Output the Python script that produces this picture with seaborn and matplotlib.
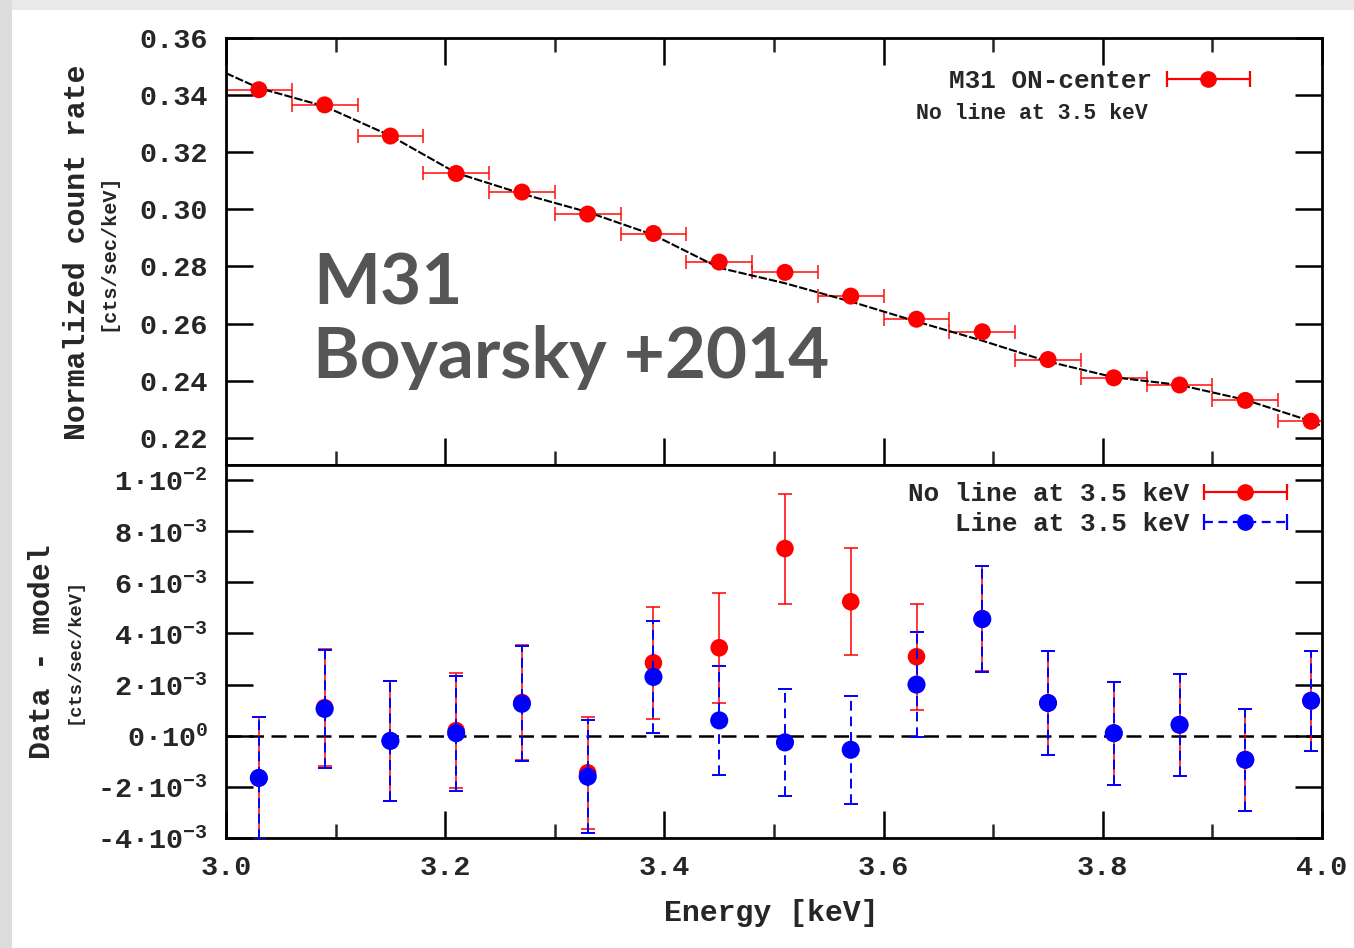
import numpy as np
import pandas as pd
import seaborn as sns
import matplotlib
matplotlib.use("Agg")
import matplotlib.pyplot as plt
from matplotlib.legend_handler import HandlerErrorbar
from matplotlib.container import ErrorbarContainer
from matplotlib.patches import Rectangle

# ---------------- data ----------------
energy = [3.03, 3.09, 3.15, 3.21, 3.27, 3.33, 3.39, 3.45, 3.51,
          3.57, 3.63, 3.69, 3.75, 3.81, 3.87, 3.93, 3.99]
bin_halfwidth = [0.03] * 17
count_rate = [0.3418, 0.3365, 0.3256, 0.3125, 0.3060, 0.2983, 0.2915, 0.2815, 0.2779,
              0.2696, 0.2615, 0.2571, 0.2474, 0.2410, 0.2385, 0.2331, 0.2258]

model_energy = [3.00, 3.03, 3.09, 3.15, 3.21, 3.27, 3.33, 3.39, 3.45, 3.51,
                3.57, 3.63, 3.69, 3.75, 3.81, 3.87, 3.93, 3.99, 4.00]
model_rate = [0.3476, 0.3424, 0.3360, 0.3257, 0.3127, 0.3054, 0.2990, 0.2910, 0.2795, 0.2741,
              0.2677, 0.2607, 0.2540, 0.2467, 0.2412, 0.2385, 0.2333, 0.2258, 0.2240]

resid_noline = [-1.65e-3, 1.10e-3, -0.20e-3, 0.20e-3, 1.30e-3, -1.45e-3, 2.85e-3, 3.44e-3, 7.32e-3,
                5.24e-3, 3.09e-3, 4.58e-3, 1.28e-3, 0.10e-3, 0.43e-3, -0.94e-3, 1.37e-3]
err_noline = [2.40e-3, 2.30e-3, 2.35e-3, 2.25e-3, 2.25e-3, 2.20e-3, 2.20e-3, 2.15e-3, 2.15e-3,
              2.10e-3, 2.08e-3, 2.06e-3, 2.03e-3, 2.01e-3, 2.00e-3, 1.99e-3, 1.95e-3]
resid_line = [-1.65e-3, 1.05e-3, -0.20e-3, 0.10e-3, 1.25e-3, -1.60e-3, 2.30e-3, 0.60e-3, -0.26e-3,
              -0.55e-3, 2.00e-3, 4.56e-3, 1.28e-3, 0.10e-3, 0.43e-3, -0.94e-3, 1.37e-3]
err_line = [2.40e-3, 2.30e-3, 2.35e-3, 2.25e-3, 2.25e-3, 2.20e-3, 2.20e-3, 2.12e-3, 2.10e-3,
            2.10e-3, 2.04e-3, 2.06e-3, 2.03e-3, 2.01e-3, 2.00e-3, 1.99e-3, 1.95e-3]

top_yticks = [0.22, 0.24, 0.26, 0.28, 0.30, 0.32, 0.34, 0.36]
bot_yticks = [-4e-3, -2e-3, 0.0, 2e-3, 4e-3, 6e-3, 8e-3, 1e-2]
bot_yticklabels = ['-4·10$^{-3}$', '-2·10$^{-3}$', '0·10$^{0}$', '2·10$^{-3}$',
                   '4·10$^{-3}$', '6·10$^{-3}$', '8·10$^{-3}$', '1·10$^{-2}$']
xticks_major = [3.0, 3.2, 3.4, 3.6, 3.8, 4.0]
xticks_minor = [3.1, 3.3, 3.5, 3.7, 3.9]
xticklabels = ['3.0', '3.2', '3.4', '3.6', '3.8', '4.0']

df_top = pd.DataFrame({'E': energy, 'rate': count_rate})
df_model = pd.DataFrame({'E': model_energy, 'rate': model_rate})
df_res = pd.DataFrame({'E': energy, 'noline': resid_noline, 'line': resid_line})

# ---------------- style ----------------
sns.set_theme(style='white')
plt.rcParams['font.family'] = ['Liberation Mono', 'DejaVu Sans']
plt.rcParams['font.weight'] = 'bold'
plt.rcParams['mathtext.fontset'] = 'custom'
plt.rcParams['mathtext.rm'] = 'Liberation Mono:bold'
plt.rcParams['mathtext.it'] = 'Liberation Mono:bold'
plt.rcParams['mathtext.bf'] = 'Liberation Mono:bold'
plt.rcParams['mathtext.default'] = 'rm'
plt.rcParams['axes.unicode_minus'] = False

RED = '#ff0000'
BLUE = '#0000ff'
TICKFS = 20.5
LEGFS = 18.7

fig = plt.figure(figsize=(13.54, 9.48), dpi=100)
fig.patch.set_facecolor('white')
# screenshot edges
fig.patches.append(Rectangle((0, 1 - 10 / 948), 1, 10 / 948, transform=fig.transFigure,
                             facecolor='#e9e9e9', edgecolor='none', zorder=-5))
fig.patches.append(Rectangle((0, 0), 12 / 1354, 1, transform=fig.transFigure,
                             facecolor='#dcdcdc', edgecolor='none', zorder=-5))

ax1 = fig.add_axes([0.1669, 0.5095, 0.8095, 0.4507])
ax2 = fig.add_axes([0.1669, 0.1160, 0.8095, 0.3935])

for ax in (ax1, ax2):
    ax.set_facecolor('white')
    for sp in ax.spines.values():
        sp.set_visible(True)
        sp.set_color('black')
        sp.set_linewidth(2.0)
    ax.set_xlim(3.0, 4.0)
    ax.set_xticks(xticks_major)
    ax.set_xticks(xticks_minor, minor=True)
    ax.tick_params(axis='both', which='major', direction='in', length=19.5, width=1.8,
                   color='black', labelsize=TICKFS, right=True, left=True)
    ax.tick_params(axis='x', which='major', top=True, bottom=True)
    ax.tick_params(axis='x', which='minor', direction='in', length=10, width=1.8,
                   top=True, bottom=True)
    ax.tick_params(axis='y', which='major', pad=13)
    ax.grid(False)

# ---------------- top panel ----------------
sns.lineplot(data=df_model, x='E', y='rate', ax=ax1, color='black', lw=1.5,
             linestyle=(0, (4, 1.0)), zorder=3, legend=False)
eb_top = ax1.errorbar(df_top['E'], df_top['rate'], xerr=bin_halfwidth, fmt='none',
                      ecolor=RED, elinewidth=1.4, capsize=5, capthick=1.4, alpha=0.75, zorder=2)
sns.scatterplot(data=df_top, x='E', y='rate', ax=ax1, color=RED, s=150,
                edgecolor='none', zorder=4, legend=False)
ax1.set_ylim(0.2105, 0.36)
ax1.set_yticks(top_yticks)
ax1.set_yticklabels([f'{v:.2f}' for v in top_yticks])
ax1.tick_params(axis='x', which='both', labelbottom=False)
ax1.set_xlabel('')
ax1.set_ylabel('')

prox_top = ax1.errorbar([np.nan], [np.nan], xerr=[0.01], fmt='o', color=RED, ms=11,
                        ecolor=RED, elinewidth=1.6, capsize=6, capthick=1.6)
hmap = {ErrorbarContainer: HandlerErrorbar(xerr_size=1.6)}
ax1.legend([prox_top], ['M31 ON-center'], loc='center right',
           bbox_to_anchor=(0.934, 0.899), frameon=False, markerfirst=False,
           handlelength=3.2, handletextpad=0.55, borderpad=0, borderaxespad=0,
           fontsize=LEGFS, handler_map=hmap)
ax1.text(0.841, 0.822, 'No line at 3.5 keV', transform=ax1.transAxes, ha='right',
         va='center', fontsize=15.5, fontweight='bold')

ax1.text(313 / 1354, 1 - 304 / 948, 'M31', transform=fig.transFigure, ha='left',
         va='baseline', fontsize=51, fontweight='bold', family='Lato', color='#555555')
ax1.text(313 / 1354, 1 - 378 / 948, 'Boyarsky +2014', transform=fig.transFigure, ha='left',
         va='baseline', fontsize=51, fontweight='bold', family='Lato', color='#555555')

# ---------------- bottom panel ----------------
ax2.axhline(0, color='black', lw=1.8, linestyle=(0, (6, 3)), zorder=1)
eb_red = ax2.errorbar(df_res['E'], df_res['noline'], yerr=err_noline, fmt='none',
                      ecolor=RED, elinewidth=1.3, capsize=5, capthick=1.3, alpha=0.85, zorder=2)
sns.scatterplot(data=df_res, x='E', y='noline', ax=ax2, color=RED, s=160,
                edgecolor='none', zorder=3, legend=False)
eb_blue = ax2.errorbar(df_res['E'], df_res['line'], yerr=err_line, fmt='none',
                       ecolor=BLUE, elinewidth=1.4, capsize=5, capthick=1.4, zorder=4)
eb_blue.lines[2][0].set_linestyle((0, (5, 3)))
sns.scatterplot(data=df_res, x='E', y='line', ax=ax2, color=BLUE, s=170,
                edgecolor='none', zorder=5, legend=False)
ax2.set_ylim(-0.004, 0.010587)
ax2.set_yticks(bot_yticks)
ax2.set_yticklabels(bot_yticklabels)
ax2.set_xticklabels(xticklabels)
ax2.tick_params(axis='x', which='major', pad=12)
ax2.tick_params(axis='x', which='both', top=False)
ax2.set_xlabel('')
ax2.set_ylabel('')

prox_red = ax2.errorbar([np.nan], [np.nan], xerr=[0.01], fmt='o', color=RED, ms=11,
                        ecolor=RED, elinewidth=1.6, capsize=6, capthick=1.6)
prox_blue = ax2.errorbar([np.nan], [np.nan], xerr=[0.01], fmt='o', color=BLUE, ms=11,
                         ecolor=BLUE, elinewidth=1.6, capsize=6, capthick=1.6)
prox_blue.lines[2][0].set_linestyle((0, (4, 2.5)))
ax2.legend([prox_red, prox_blue], ['No line at 3.5 keV', 'Line at 3.5 keV'],
           loc='center right', bbox_to_anchor=(0.968, 0.882), frameon=False,
           markerfirst=False, handlelength=3.2, handletextpad=0.55, borderpad=0,
           borderaxespad=0, labelspacing=0.22, fontsize=LEGFS, handler_map=hmap)

# ---------------- axis labels ----------------
fig.text(77 / 1354, 1 - 252 / 948, 'Normalized count rate', rotation=90, ha='center',
         va='center', fontsize=21.5, fontweight='bold')
fig.text(108 / 1354, 1 - 252 / 948, '[cts/sec/keV]', rotation=90, ha='center',
         va='center', fontsize=14.5, fontweight='bold')
fig.text(42 / 1354, 1 - 652 / 948, 'Data - model', rotation=90, ha='center',
         va='center', fontsize=21.5, fontweight='bold')
fig.text(74 / 1354, 1 - 651 / 948, '[cts/sec/keV]', rotation=90, ha='center',
         va='center', fontsize=13.5, fontweight='bold')
fig.text(771 / 1354, 1 - 913 / 948, 'Energy [keV]', ha='center', va='center',
         fontsize=21.5, fontweight='bold')

fig.savefig('out.png', dpi=100, facecolor=fig.get_facecolor())
